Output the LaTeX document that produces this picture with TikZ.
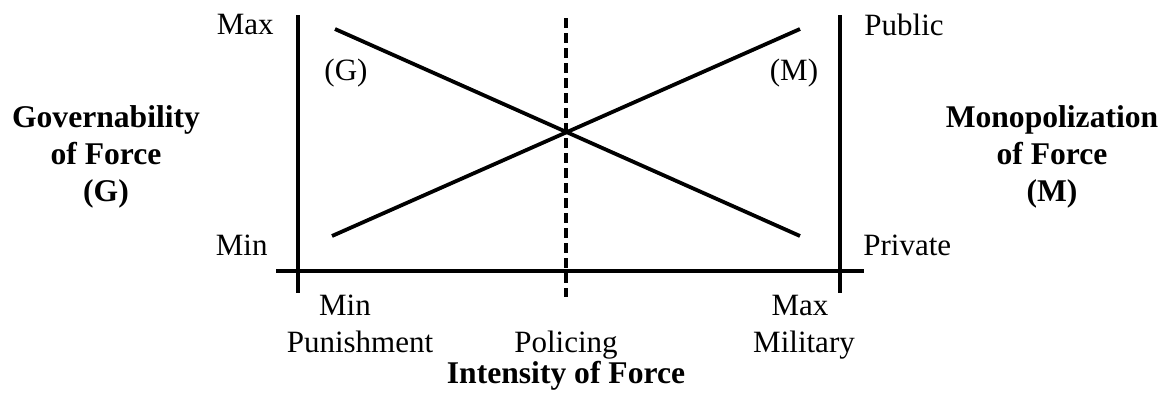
\documentclass[tikz,border=0pt]{standalone}
\usepackage{fontspec}
\setmainfont{Liberation Serif}
\usetikzlibrary{positioning}

\begin{document}
\begin{tikzpicture}[x=0.5pt,y=-0.5pt,
  axis/.style={line width=2.1pt},
  curve/.style={line width=1.9pt},
  guide/.style={line width=1.7pt,dash pattern=on 5pt off 2.5pt},
  tick/.style={font=\fontsize{15.5}{19}\selectfont,inner sep=0pt,anchor=base},
  title/.style={font=\fontsize{15.8}{18.5}\selectfont\bfseries,align=center,inner sep=0pt}]
  \useasboundingbox (0,0) rectangle (1162,392);

  % axes
  \coordinate (ltop) at (298,15);
  \coordinate (lbot) at (298,293);
  \coordinate (rtop) at (840,15);
  \coordinate (rbot) at (840,293);
  \coordinate (xleft) at (276,271);
  \coordinate (xright) at (864,271);
  \draw[axis] (ltop) -- (lbot);
  \draw[axis] (rtop) -- (rbot);
  \draw[axis] (xleft) -- (xright);

  % policing line
  \coordinate (ptop) at (566,18);
  \coordinate (pbot) at (566,297);
  \draw[guide] (ptop) -- (pbot);

  % curves
  \coordinate (gstart) at (335,29);
  \coordinate (gend) at (800,236);
  \coordinate (mstart) at (332,236);
  \coordinate (mend) at (800,29);
  \draw[curve] (gstart) -- (gend);
  \draw[curve] (mstart) -- (mend);

  % labels on the axes
  \node[tick,anchor=base east] (gmax) at (274,34) {Max};
  \node[tick,anchor=base east] (gmin) at (268,255) {Min};
  \node[tick,anchor=base west] (mpub) at (864,35) {Public};
  \node[tick,anchor=base west] (mpriv) at (863,255) {Private};
  \node[tick] (glabel) at (346,80) {(G)};
  \node[tick] (mlabel) at (794,80) {(M)};
  \node[tick] (xmin) at (345,315) {Min};
  \node[tick] (xpun) at (360,352) {Punishment};
  \node[tick] (xpol) at (566,352) {Policing};
  \node[tick] (xmax) at (800,315) {Max};
  \node[tick] (xmil) at (804,352) {Military};

  % titles
  \node[title] (gtitle) at (106,157) {Governability\\of Force\\(G)};
  \node[title] (mtitle) at (1052,157) {Monopolization\\of Force\\(M)};
  \node[title,anchor=base] (xtitle) at (566,383) {Intensity of Force};
\end{tikzpicture}
\end{document}
